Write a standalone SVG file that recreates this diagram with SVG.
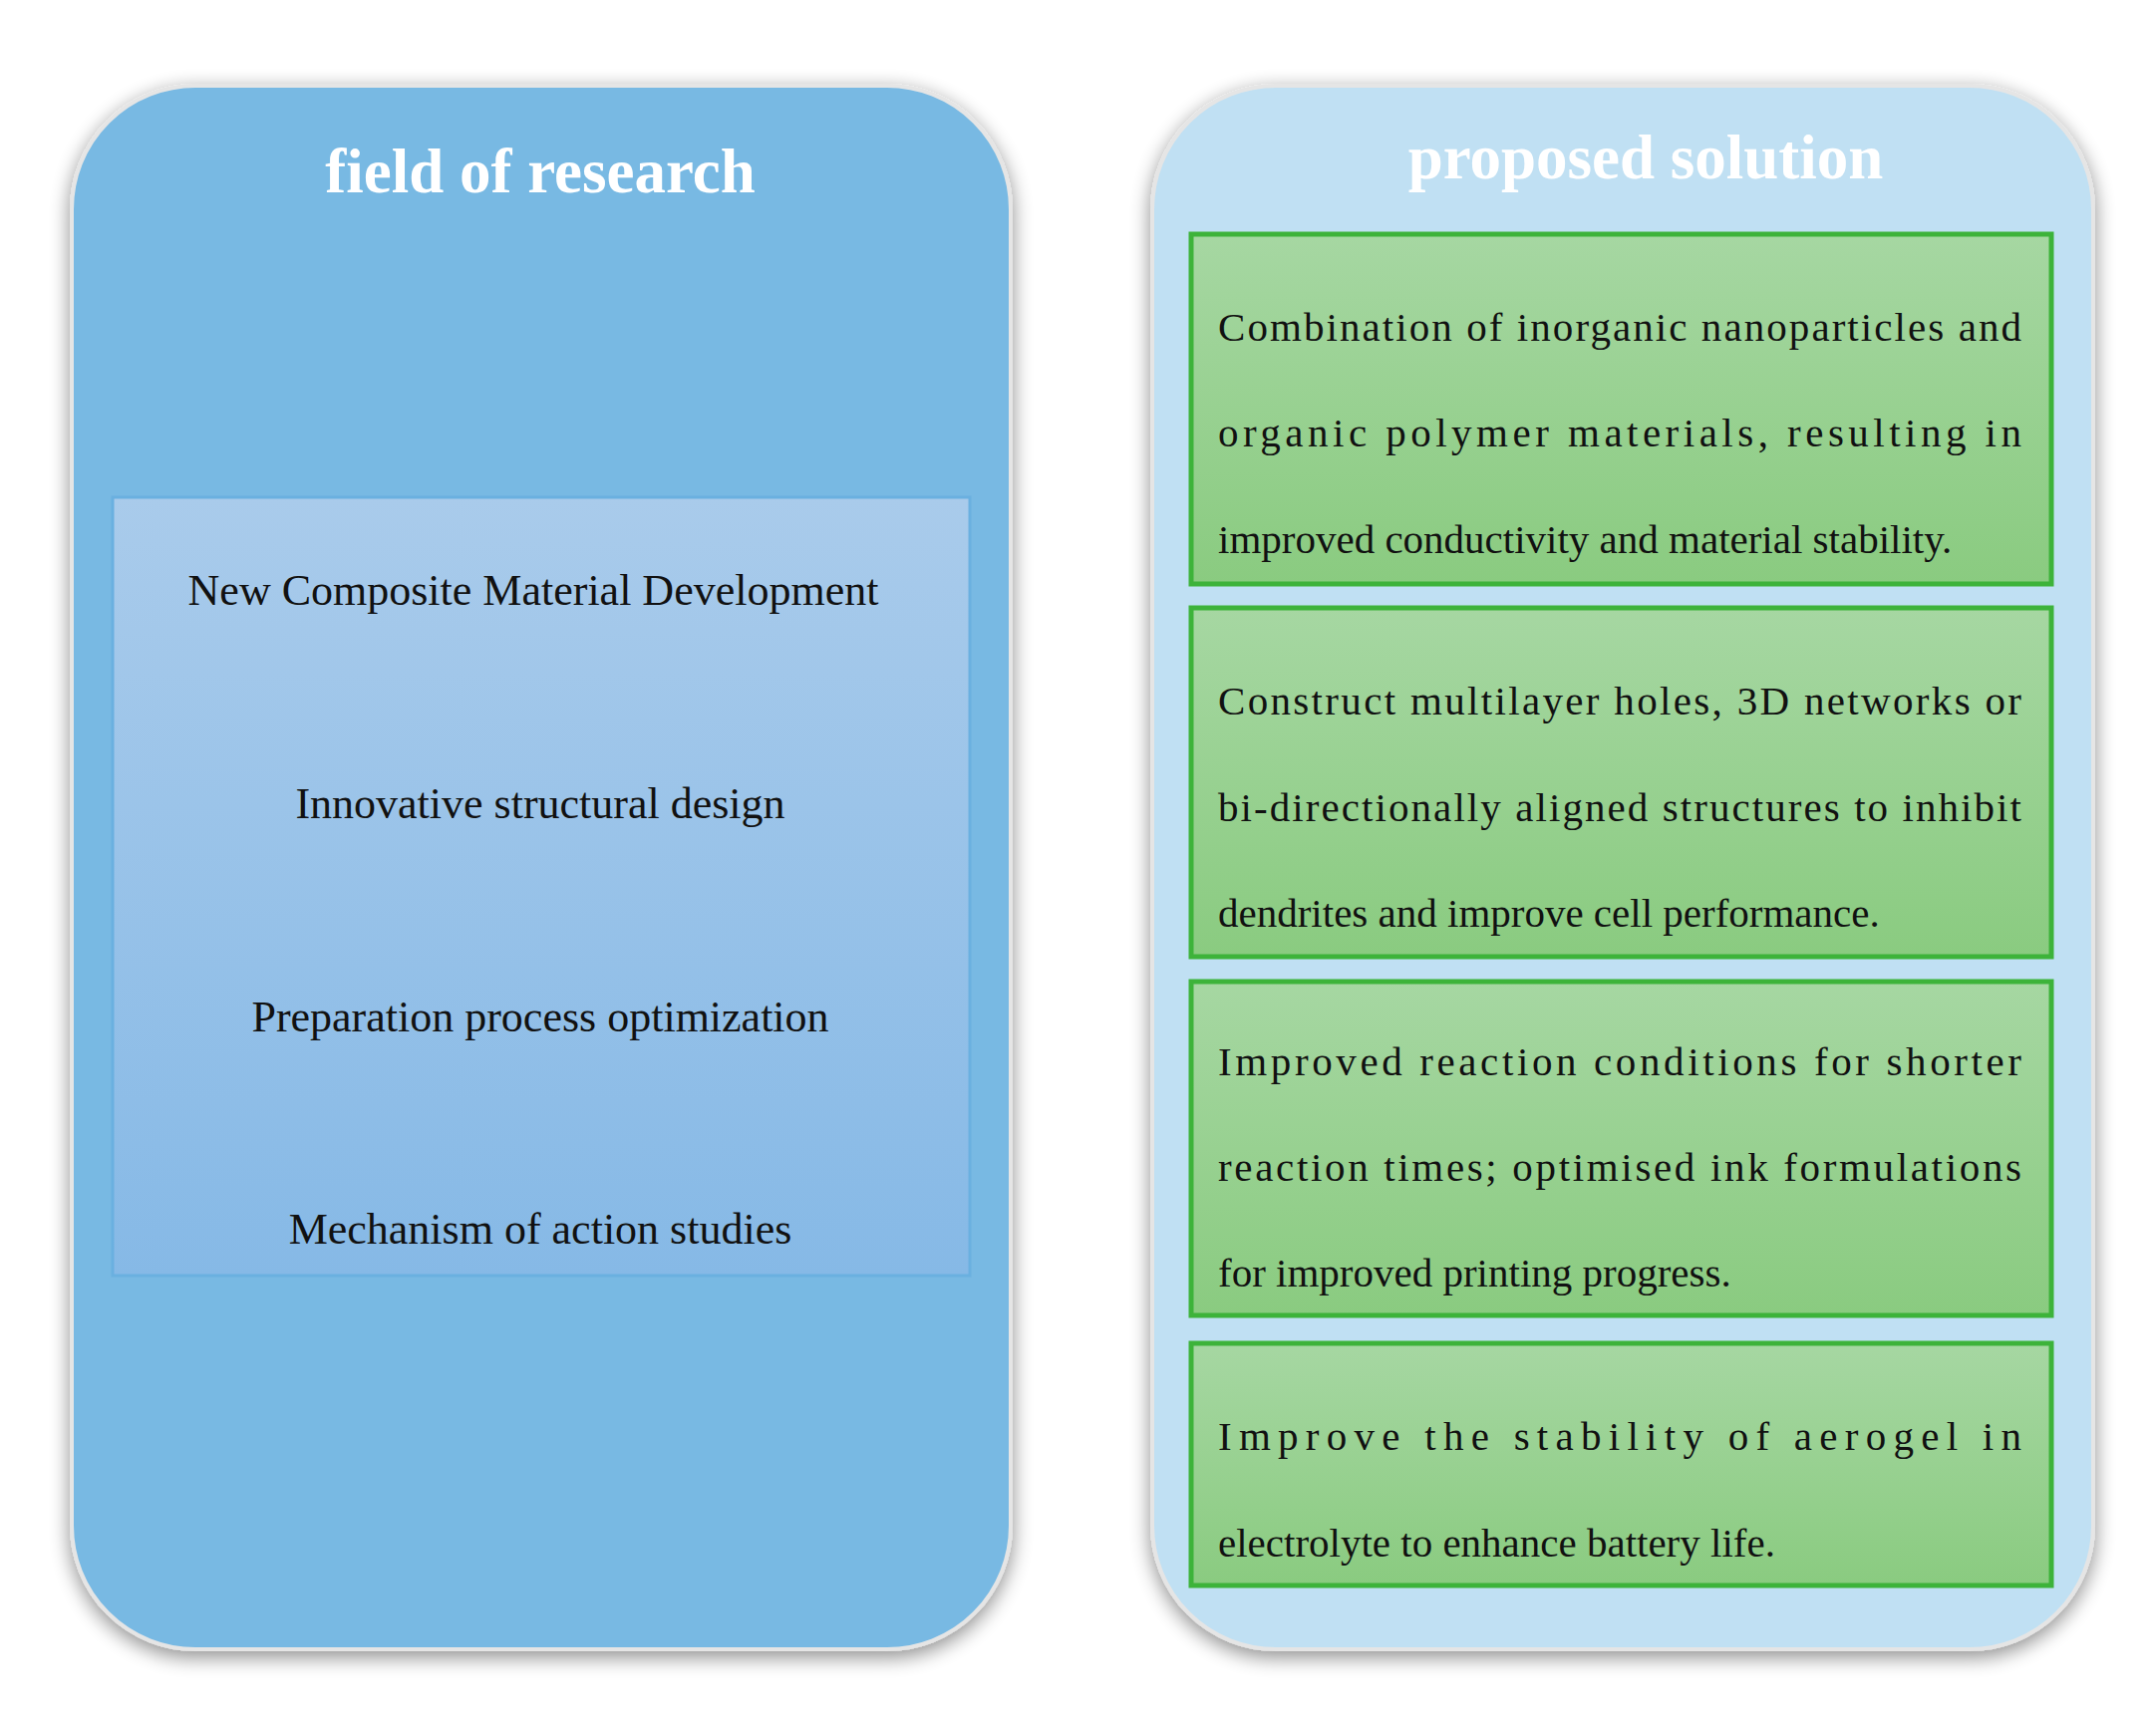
<svg xmlns="http://www.w3.org/2000/svg" width="2163" height="1730" viewBox="0 0 2163 1730">
<defs>
<filter id="sh" x="-10%" y="-10%" width="120%" height="120%"><feGaussianBlur in="SourceAlpha" stdDeviation="10"/><feOffset dx="0" dy="6"/><feComponentTransfer><feFuncA type="linear" slope="0.45"/></feComponentTransfer><feMerge><feMergeNode/><feMergeNode in="SourceGraphic"/></feMerge></filter>
<linearGradient id="ig" x1="0" y1="0" x2="0" y2="1"><stop offset="0" stop-color="#a9cbeb"/><stop offset="1" stop-color="#86b9e6"/></linearGradient>
<linearGradient id="gg" x1="0" y1="0" x2="0" y2="1"><stop offset="0" stop-color="#a6d7a2"/><stop offset="1" stop-color="#8acb80"/></linearGradient>
</defs>
<style>
.t{font-family:"Liberation Serif",serif;fill:#fff;font-weight:bold;font-size:63px;text-anchor:middle}
.l{font-family:"Liberation Serif",serif;fill:#111;font-size:44px;text-anchor:middle}
.g{font-family:"Liberation Serif",serif;fill:#111;font-size:41px}
.gb{fill:url(#gg);stroke:#3db33a;stroke-width:5}
</style>
<rect width="2163" height="1730" fill="#fff"/>
<g id="field">
<rect x="72" y="86" width="942" height="1569" rx="124" fill="#78b9e3" stroke="#e5e5e5" stroke-width="4" filter="url(#sh)"/>
<text class="t" x="542" y="193">field of research</text>
<rect x="113" y="499" width="860" height="781" fill="url(#ig)" stroke="#6ab0e0" stroke-width="3"/>
<text class="l" x="535" y="607">New Composite Material Development</text>
<text class="l" x="542" y="821">Innovative structural design</text>
<text class="l" x="542" y="1035">Preparation process optimization</text>
<text class="l" x="542" y="1248">Mechanism of action studies</text>
</g>
<g id="solution">
<rect x="1156" y="86" width="944" height="1569" rx="124" fill="#c0e0f3" stroke="#e5e5e5" stroke-width="4" filter="url(#sh)"/>
<text class="t" x="1651" y="179">proposed solution</text>
</g>
<g id="s1">
<rect class="gb" x="1195" y="235" width="863" height="351"/>
<text class="g" x="1222" y="342" textLength="806" lengthAdjust="spacing">Combination of inorganic nanoparticles and</text>
<text class="g" x="1222" y="448" textLength="806" lengthAdjust="spacing">organic polymer materials, resulting in</text>
<text class="g" x="1222" y="555">improved conductivity and material stability.</text>
</g>
<g id="s2">
<rect class="gb" x="1195" y="610" width="863" height="350"/>
<text class="g" x="1222" y="717" textLength="806" lengthAdjust="spacing">Construct multilayer holes, 3D networks or</text>
<text class="g" x="1222" y="824" textLength="806" lengthAdjust="spacing">bi-directionally aligned structures to inhibit</text>
<text class="g" x="1222" y="930">dendrites and improve cell performance.</text>
</g>
<g id="s3">
<rect class="gb" x="1195" y="985" width="863" height="335"/>
<text class="g" x="1222" y="1079" textLength="806" lengthAdjust="spacing">Improved reaction conditions for shorter</text>
<text class="g" x="1222" y="1185" textLength="806" lengthAdjust="spacing">reaction times; optimised ink formulations</text>
<text class="g" x="1222" y="1291">for improved printing progress.</text>
</g>
<g id="s4">
<rect class="gb" x="1195" y="1348" width="863" height="243"/>
<text class="g" x="1222" y="1455" textLength="806" lengthAdjust="spacing">Improve the stability of aerogel in</text>
<text class="g" x="1222" y="1562">electrolyte to enhance battery life.</text>
</g>
<g id="connectors"/>
</svg>
